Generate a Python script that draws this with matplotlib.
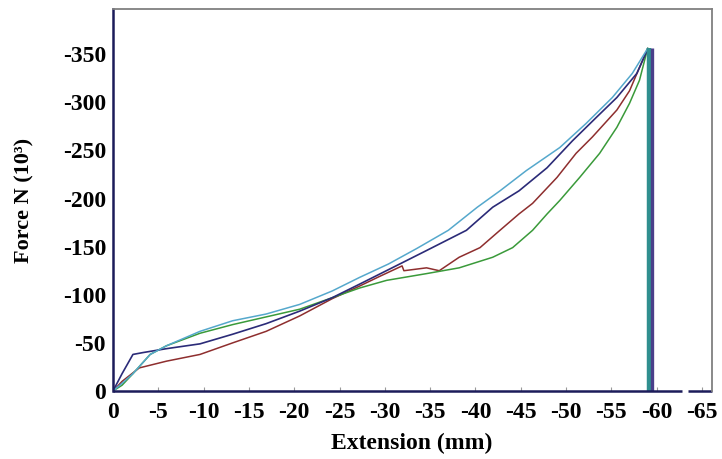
import matplotlib
matplotlib.use("Agg")
import matplotlib.pyplot as plt
from matplotlib.lines import Line2D

plt.rcParams['axes.unicode_minus'] = False
plt.rcParams['font.family'] = ['Liberation Serif', 'DejaVu Serif']

# ---- data (extension mm, force kN) ----
cyan_x = [0, -1, -2.2, -4.1, -5.9, -9.6, -13.2, -16.9, -20.6, -24.2, -27.2, -30.4, -33.5,
          -37.0, -40.2, -42.7, -45.6, -49.3, -52.2, -55.1, -57.3, -59.0]
cyan_y = [0, -8, -18, -38, -47, -62, -73, -80, -90, -104, -118, -132, -148,
          -167, -191, -208, -229, -253, -278, -305, -330, -356]

navy_x = [0, -1, -2.2, -3.35, -5.9, -9.6, -13.2, -16.9, -20.6, -24.2, -27.2, -30.8, -34.6,
          -39.0, -41.9, -44.8, -47.9, -50.7, -53.3, -55.6, -57.8, -59.0]
navy_y = [0, -18, -38, -40, -44, -49, -59, -70, -83, -97, -111, -128, -146,
          -167, -191, -208, -232, -260, -284, -305, -330, -355]

red_x = [0, -1, -2.9, -5.9, -9.6, -13.2, -16.9, -20.6, -24.2, -27.2, -29.4, -31.9, -32.1,
         -34.6, -36.0, -38.2, -40.5, -42.7, -44.8, -46.3, -49.0, -51.1, -52.9, -55.6,
         -57.0, -59.0]
red_y = [0, -10, -24, -31, -38, -50, -62, -78, -96, -109, -119, -130, -125,
         -128, -125, -139, -149, -167, -184, -195, -222, -247, -264, -292,
         -312, -356]

green_x = [0, -1, -2.2, -4.1, -5.9, -9.6, -13.2, -16.9, -20.6, -24.2, -27.2, -30.2, -34.6,
           -38.2, -41.9, -44.1, -46.3, -47.9, -49.3, -51.5, -53.7, -55.6, -57.0, -58.1, -59.0]
green_y = [0, -6, -18, -38, -47, -60, -69, -77, -85, -97, -107, -115, -122,
           -128, -139, -149, -167, -184, -198, -222, -247, -274, -299, -323, -356]

failure_x = [-59.1, -59.5]
failure_colors = ['#2f8f8f', '#4a3f8a']
failure_peak = -356

x_ticks = list(range(0, -70, -5))
x_labels = [str(t) for t in x_ticks]
y_ticks = list(range(0, -400, -50))
y_labels = [str(t) for t in y_ticks]

W, H = 722, 459
fig = plt.figure(figsize=(W / 100, H / 100), dpi=100)
ax = fig.add_axes([113 / W, 1 - 391 / H, (712 - 113) / W, (391 - 9) / H])

ax.plot(red_x, red_y, color='#8e2e2e', lw=1.1)
ax.plot(green_x, green_y, color='#3a9a3a', lw=1.1)
ax.plot(navy_x, navy_y, color='#2b2b78', lw=1.2)
ax.plot(cyan_x, cyan_y, color='#55a8cc', lw=1.1)

for fx, fc, lw in zip(failure_x, failure_colors, [3.2, 2.4]):
    ax.vlines(fx, 0, failure_peak, color=fc, lw=lw)

ax.set_xlim(0, -66.1)
ax.set_ylim(0, -397)

ax.set_xticks(x_ticks)
ax.set_xticklabels(x_labels)
ax.set_yticks(y_ticks)
ax.set_yticklabels(y_labels)
ax.tick_params(axis='x', direction='in', length=3, color='#999999', pad=8,
               labelsize=17)
ax.tick_params(axis='y', length=0, pad=5, labelsize=17)
for lab in ax.get_xticklabels() + ax.get_yticklabels():
    lab.set_fontweight('bold')

for s in ['top', 'right']:
    ax.spines[s].set_color('#808080')
    ax.spines[s].set_linewidth(1.3)
ax.spines['left'].set_color('#1c1c5a')
ax.spines['left'].set_linewidth(1.8)
ax.spines['bottom'].set_visible(False)
# bottom axis line with a small break near the right end
ax.add_line(Line2D([0, (682 - 113) / (712 - 113)], [0, 0], transform=ax.transAxes,
                   color='#1c1c5a', lw=1.8, clip_on=False, solid_capstyle='butt'))
ax.add_line(Line2D([(688 - 113) / (712 - 113), 1], [0, 0], transform=ax.transAxes,
                   color='#1c1c5a', lw=1.8, clip_on=False, solid_capstyle='butt'))

fig.text(412 / W, 1 - 443 / H, 'Extension (mm)', ha='center', va='center',
         fontsize=17, fontweight='bold')
fig.text(24 / W, 1 - 200 / H, 'Force N (10³)', ha='center', va='center',
         rotation=90, fontsize=16, fontweight='bold')

fig.savefig('out.png', dpi=100)
